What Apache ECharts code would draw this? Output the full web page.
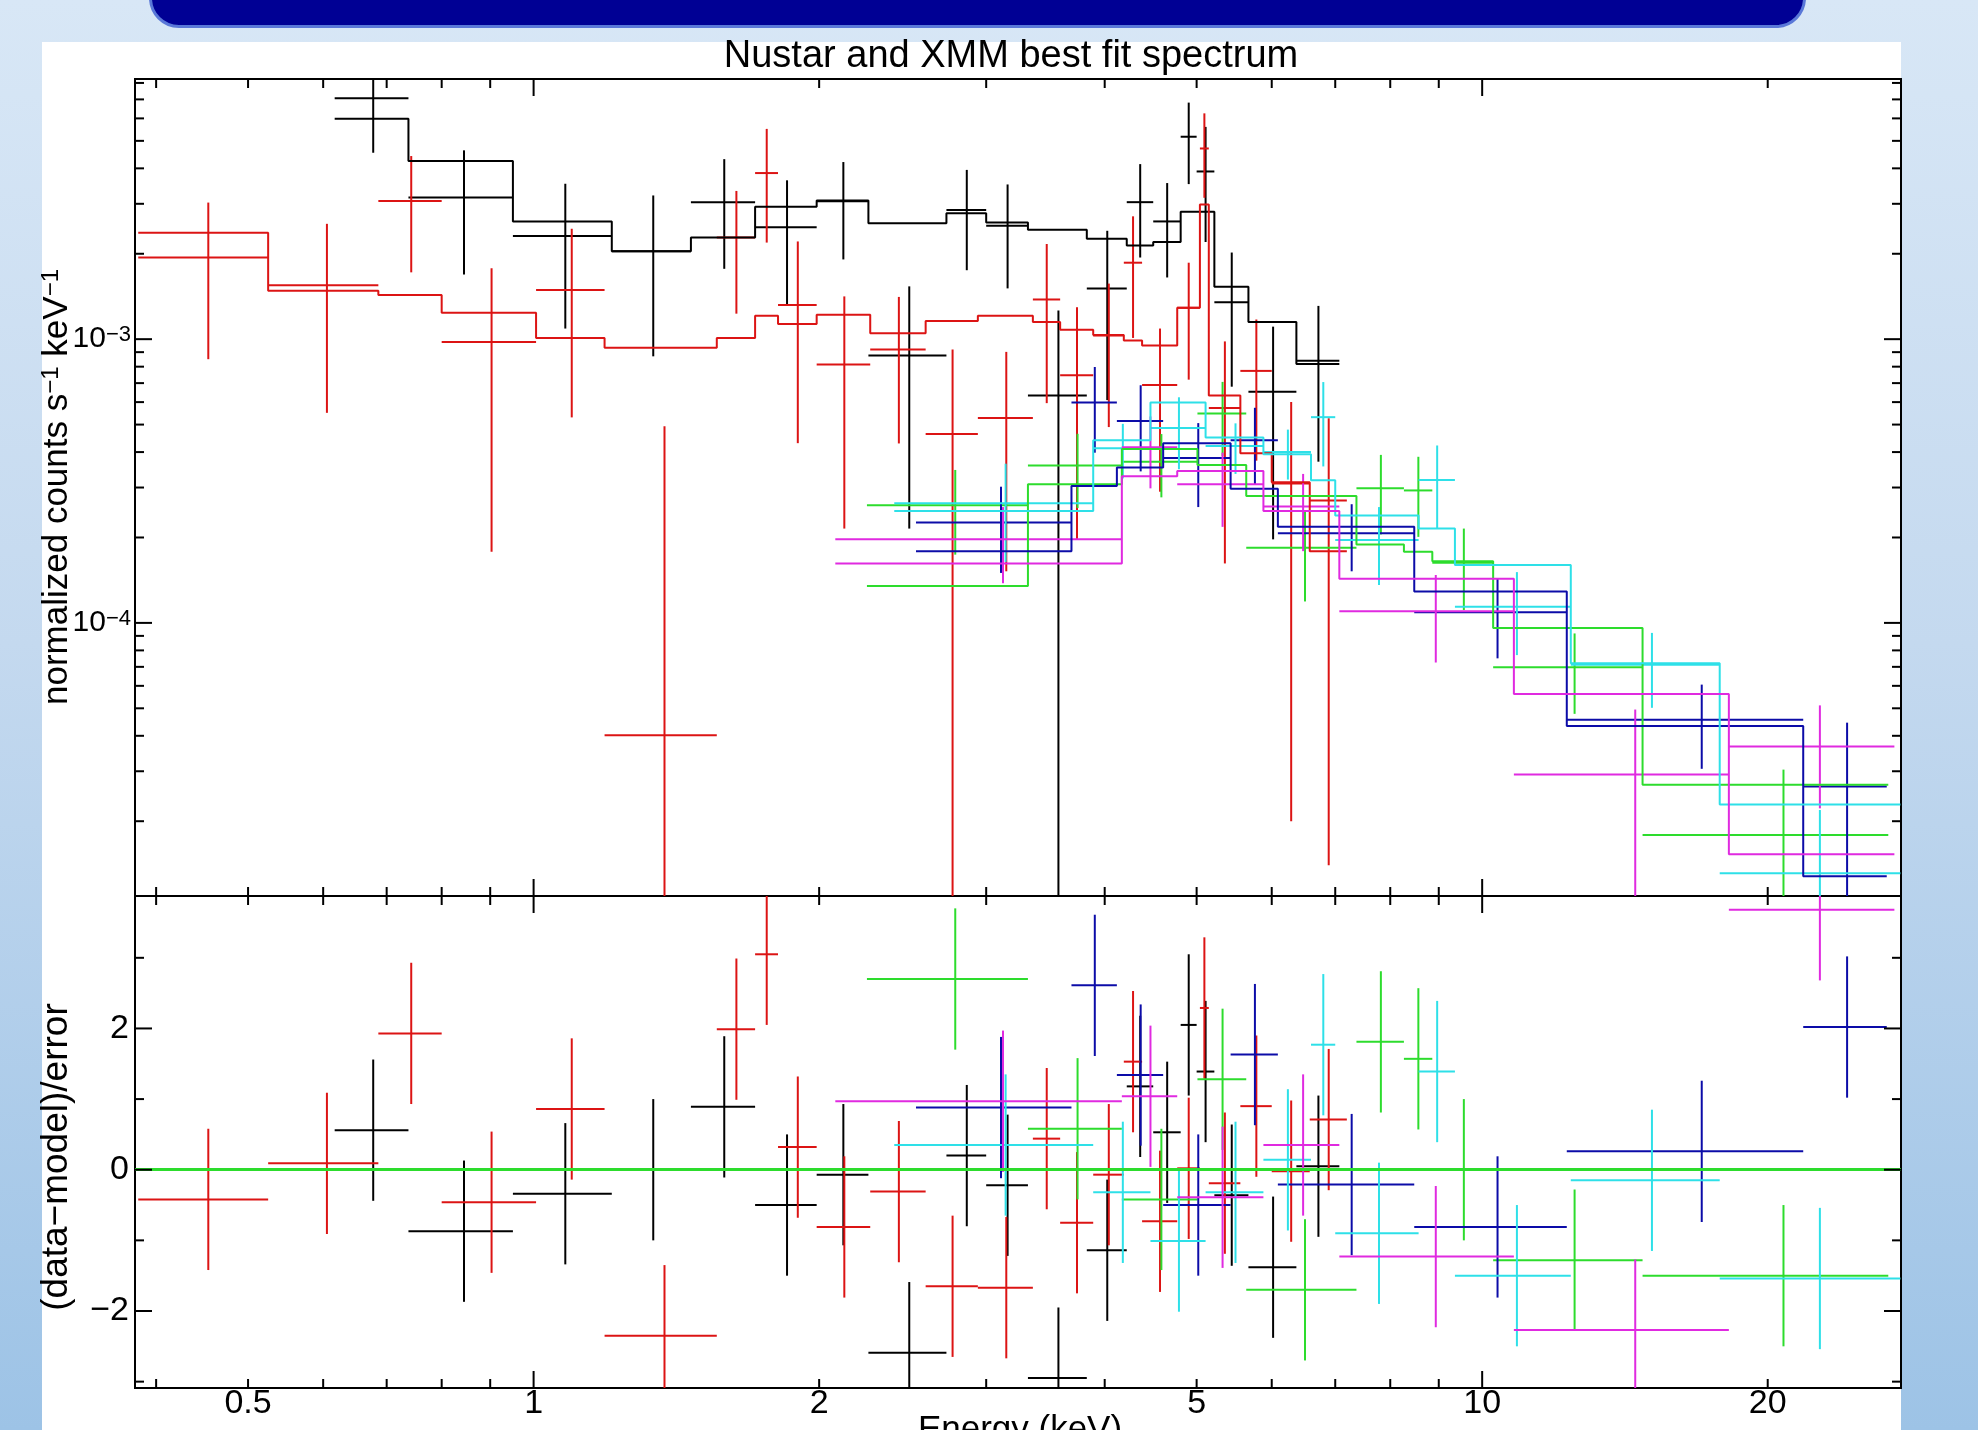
<!DOCTYPE html>
<html>
<head>
<meta charset="utf-8">
<script src="https://cdn.jsdelivr.net/npm/echarts@6.0.0/dist/echarts.min.js"></script>
<style>
html, body { margin: 0; padding: 0; }
body {
  width: 1978px; height: 1430px; overflow: hidden; position: relative;
  background: linear-gradient(to bottom, #d8e7f6 0%, #c4d9ef 45%, #9dc3e6 100%);
}
#bar {
  position: absolute; left: 149px; top: -30px; width: 1651px; height: 52px;
  background: #000094; border: 3px solid #5a78d8; border-radius: 0 0 30px 30px;
}
#panel { position: absolute; left: 42px; top: 42px; width: 1859px; height: 1400px; background: #fff; }
#chart { position: absolute; left: 0; top: 0; width: 1978px; height: 1430px; }
</style>
</head>
<body>
<div id="bar"></div>
<div id="panel"></div>
<div id="chart"></div>
<script>
// axis ranges
const xMin = 0.38, xMax = 27.64;        // energy, keV (log)
const yMin = 1.09e-5, yMax = 8.26e-3;   // normalized counts (log)
const rMin = -3.09, rMax = 3.875;       // residuals

// ticks and labels
const xMajorTicks = [1, 10];
const xMinorTicks = [0.4, 0.5, 0.6, 0.7, 0.8, 0.9, 2, 3, 4, 5, 6, 7, 8, 9, 20];
const xLabelVals = [0.5, 1, 2, 5, 10, 20];
const xLabels = ['0.5', '1', '2', '5', '10', '20'];
const yMajorTicks = [1e-4, 1e-3];
const yMinorTicks = [2e-5, 3e-5, 4e-5, 5e-5, 6e-5, 7e-5, 8e-5, 9e-5,
  2e-4, 3e-4, 4e-4, 5e-4, 6e-4, 7e-4, 8e-4, 9e-4,
  2e-3, 3e-3, 4e-3, 5e-3, 6e-3, 7e-3, 8e-3];
const yLabelVals = [1e-4, 1e-3];
const yLabels = ['10{s|−4}', '10{s|−3}'];
const rMajorTicks = [-2, 0, 2];
const rMinorTicks = [-3, -1, 1, 3];
const rLabelVals = [-2, 0, 2];
const rLabels = ['−2', '0', '2'];

// black: bin edges (keV), rate, error, model, residual
const blackEdges = [0.617, 0.738, 0.951, 1.209, 1.465, 1.712, 1.988, 2.254, 2.724, 3.0, 3.32, 3.83, 4.22, 4.5, 4.81, 5.0, 5.22, 5.67, 6.37, 7.07];
const blackRate = [7.06e-3, 3.16e-3, 2.31e-3, 2.04e-3, 3.04e-3, 2.48e-3, 3.06e-3, 8.75e-4, 2.85e-3, 2.51e-3, 6.33e-4, 1.51e-3, 3.04e-3, 2.6e-3, 5.17e-3, 3.9e-3, 1.35e-3, 6.52e-4, 8.4e-4];
const blackErr = [2.52e-3, 1.47e-3, 1.22e-3, 1.17e-3, 1.27e-3, 1.15e-3, 1.15e-3, 6.6e-4, 1.1e-3, 1.0e-3, 6.3e-4, 9e-4, 1.1e-3, 9.5e-4, 1.65e-3, 1.7e-3, 6.7e-4, 4.55e-4, 4.7e-4];
const blackModel = [5.98e-3, 4.25e-3, 2.6e-3, 2.04e-3, 2.28e-3, 2.93e-3, 3.08e-3, 2.56e-3, 2.78e-3, 2.58e-3, 2.43e-3, 2.26e-3, 2.14e-3, 2.2e-3, 2.81e-3, 2.81e-3, 1.53e-3, 1.15e-3, 8.17e-4];
const blackResid = [0.56, -0.87, -0.34, 0.0, 0.89, -0.5, -0.07, -2.59, 0.2, -0.22, -2.95, -1.14, 1.18, 0.53, 2.05, 1.39, -0.36, -1.38, 0.05];

// red
const redEdges = [0.383, 0.525, 0.686, 0.8, 1.006, 1.188, 1.56, 1.712, 1.81, 1.988, 2.264, 2.59, 2.94, 3.36, 3.59, 3.89, 4.19, 4.38, 4.77, 5.04, 5.15, 5.56, 6.0, 6.58, 7.2];
const redRate = [1.94e-3, 1.55e-3, 3.07e-3, 9.78e-4, 1.49e-3, 4.02e-5, 2.28e-3, 3.85e-3, 1.32e-3, 8.15e-4, 9.19e-4, 4.63e-4, 5.27e-4, 1.38e-3, 7.46e-4, 1.03e-3, 1.86e-3, 6.9e-4, 1.29e-3, 4.7e-3, 5.72e-4, 7.73e-4, 3.1e-4, 2.7e-4];
const redErr = [1.09e-3, 1.0e-3, 1.35e-3, 8.0e-4, 9.6e-4, 4.53e-4, 1.05e-3, 1.66e-3, 8.9e-4, 6.0e-4, 4.9e-4, 4.56e-4, 3.75e-4, 7.85e-4, 5.5e-4, 5.4e-4, 8.5e-4, 4.0e-4, 5.7e-4, 1.55e-3, 4.1e-4, 4.0e-4, 2.9e-4, 2.56e-4];
const redModel = [2.37e-3, 1.48e-3, 1.43e-3, 1.24e-3, 1.01e-3, 9.33e-4, 1.01e-3, 1.21e-3, 1.13e-3, 1.22e-3, 1.05e-3, 1.16e-3, 1.21e-3, 1.15e-3, 1.08e-3, 1.035e-3, 9.9e-4, 9.5e-4, 1.29e-3, 2.98e-3, 6.33e-4, 3.96e-4, 3.13e-4, 1.79e-4];
const redResid = [-0.42, 0.09, 1.93, -0.46, 0.86, -2.35, 1.99, 3.05, 0.32, -0.81, -0.31, -1.65, -1.67, 0.44, -0.75, -0.07, 1.53, -0.73, 0.02, 2.29, -0.19, 0.9, -0.02, 0.71];

// green
const greenEdges = [2.246, 3.32, 4.17, 5.01, 5.64, 7.37, 8.27, 8.86, 10.27, 14.76, 26.8];
const greenRate = [2.6e-4, 3.59e-4, 3.7e-4, 5.47e-4, 1.84e-4, 2.98e-4, 2.93e-4, 1.63e-4, 6.98e-5, 1.79e-5];
const greenErr = [0.86e-4, 1.05e-4, 0.93e-4, 1.6e-4, 0.65e-4, 0.93e-4, 0.92e-4, 0.52e-4, 2.2e-5, 1.25e-5];
const greenModel = [1.35e-4, 3.08e-4, 4.1e-4, 3.6e-4, 2.8e-4, 1.89e-4, 1.78e-4, 1.65e-4, 9.6e-5, 2.69e-5];
const greenResid = [2.7, 0.58, -0.42, 1.28, -1.7, 1.81, 1.57, 0.0, -1.28, -1.5];

// blue
const blueEdges = [2.53, 3.69, 4.12, 4.61, 5.43, 6.09, 8.48, 12.28, 21.8, 26.7];
const blueRate = [2.26e-4, 5.98e-4, 5.15e-4, 3.81e-4, 4.4e-4, 2.07e-4, 1.09e-4, 4.56e-5, 2.65e-5];
const blueErr = [0.76e-4, 2.0e-4, 1.73e-4, 1.25e-4, 1.33e-4, 0.55e-4, 0.34e-4, 1.5e-5, 1.8e-5];
const blueModel = [1.79e-4, 3.04e-4, 3.53e-4, 4.3e-4, 2.97e-4, 2.18e-4, 1.29e-4, 4.33e-5, 1.28e-5];
const blueResid = [0.88, 2.61, 1.34, -0.5, 1.63, -0.21, -0.81, 0.26, 2.02];

// cyan
const cyanEdges = [2.4, 3.89, 4.47, 5.11, 5.88, 6.6, 7.0, 8.57, 9.36, 12.4, 17.8, 27.6];
const cyanRate = [2.64e-4, 4.13e-4, 4.86e-4, 4.2e-4, 4.0e-4, 5.31e-4, 1.96e-4, 3.19e-4, 1.14e-4, 7.12e-5, 1.31e-5];
const cyanErr = [1.0e-4, 0.9e-4, 1.38e-4, 0.85e-4, 0.8e-4, 1.75e-4, 0.6e-4, 1.03e-4, 0.37e-4, 2.1e-5, 0.88e-5];
const cyanModel = [2.48e-4, 4.4e-4, 5.98e-4, 4.5e-4, 3.93e-4, 3.18e-4, 2.39e-4, 2.15e-4, 1.6e-4, 7.2e-5, 2.29e-5];
const cyanResid = [0.35, -0.32, -1.01, -0.32, 0.14, 1.77, -0.9, 1.39, -1.5, -0.15, -1.54];

// magenta
const magentaEdges = [2.08, 4.17, 4.77, 5.88, 7.07, 10.8, 18.2, 27.2];
const magentaRate = [1.97e-4, 4.16e-4, 3.08e-4, 2.57e-4, 1.1e-4, 2.92e-5, 3.67e-5];
const magentaErr = [0.59e-4, 1.18e-4, 0.9e-4, 0.78e-4, 0.375e-4, 2.03e-5, 1.45e-5];
const magentaModel = [1.62e-4, 3.29e-4, 3.43e-4, 2.48e-4, 1.43e-4, 5.61e-5, 1.53e-5];
const magentaResid = [0.97, 1.04, -0.39, 0.35, -1.23, -2.27, 3.68];

const FONT = 'Liberation Sans';

const sets = [
  { color: '#000000', edges: blackEdges, rate: blackRate, err: blackErr, model: blackModel, resid: blackResid },
  { color: '#dc1414', edges: redEdges, rate: redRate, err: redErr, model: redModel, resid: redResid },
  { color: '#2ddc2d', edges: greenEdges, rate: greenRate, err: greenErr, model: greenModel, resid: greenResid },
  { color: '#0c0ca8', edges: blueEdges, rate: blueRate, err: blueErr, model: blueModel, resid: blueResid },
  { color: '#2ee0e8', edges: cyanEdges, rate: cyanRate, err: cyanErr, model: cyanModel, resid: cyanResid },
  { color: '#e02ae0', edges: magentaEdges, rate: magentaRate, err: magentaErr, model: magentaModel, resid: magentaResid }
];

function stepData(edges, model) {
  const out = [];
  model.forEach((m, i) => { out.push([edges[i], m]); out.push([edges[i + 1], m]); });
  return out;
}

function crossRender(color) {
  return function (params, api) {
    const c = api.value(0), v = api.value(1), e = api.value(4);
    const lo = Math.max(api.value(2), xMin), hi = Math.min(api.value(3), xMax);
    const vv = Math.min(Math.max(v, yMin), yMax);
    const top = Math.min(v + e, yMax);
    const bot = v - e > yMin ? v - e : yMin;
    const a = api.coord([lo, vv]), b = api.coord([hi, vv]);
    const t = api.coord([c, top]), d = api.coord([c, bot]);
    const st = { stroke: color, lineWidth: 2 };
    return { type: 'group', children: [
      { type: 'line', shape: { x1: a[0], y1: a[1], x2: b[0], y2: b[1] }, style: st },
      { type: 'line', shape: { x1: t[0], y1: t[1], x2: d[0], y2: d[1] }, style: st }
    ] };
  };
}

function residRender(color) {
  return function (params, api) {
    const c = api.value(0), r = api.value(1);
    const lo = Math.max(api.value(2), xMin), hi = Math.min(api.value(3), xMax);
    const rr = Math.min(Math.max(r, rMin), rMax);
    const a = api.coord([lo, rr]), b = api.coord([hi, rr]);
    const t = api.coord([c, Math.min(r + 1, rMax)]), d = api.coord([c, Math.max(r - 1, rMin)]);
    const st = { stroke: color, lineWidth: 2 };
    return { type: 'group', children: [
      { type: 'line', shape: { x1: a[0], y1: a[1], x2: b[0], y2: b[1] }, style: st },
      { type: 'line', shape: { x1: t[0], y1: t[1], x2: d[0], y2: d[1] }, style: st }
    ] };
  };
}

function tickRender(params, api) {
  const cs = params.coordSys;
  const kind = api.value(2), len = api.value(3);
  const st = { stroke: '#000', lineWidth: 2 };
  const p = api.coord([api.value(0), api.value(1)]);
  if (kind === 0) {
    const bottom = cs.y + cs.height;
    return { type: 'group', children: [
      { type: 'line', shape: { x1: p[0], y1: bottom, x2: p[0], y2: bottom - len }, style: st },
      { type: 'line', shape: { x1: p[0], y1: cs.y, x2: p[0], y2: cs.y + len }, style: st }
    ] };
  }
  const right = cs.x + cs.width;
  return { type: 'group', children: [
    { type: 'line', shape: { x1: cs.x, y1: p[1], x2: cs.x + len, y2: p[1] }, style: st },
    { type: 'line', shape: { x1: right, y1: p[1], x2: right - len, y2: p[1] }, style: st }
  ] };
}

function tickData(ys, xOther, yOther) {
  const d = [];
  xMajorTicks.forEach(v => d.push([v, yOther, 0, 17]));
  xMinorTicks.forEach(v => d.push([v, yOther, 0, 9]));
  ys.major.forEach(v => d.push([xOther, v, 1, 17]));
  ys.minor.forEach(v => d.push([xOther, v, 1, 9]));
  return d;
}

const series = [];

sets.forEach(s => {
  const centres = s.rate.map((v, i) => (s.edges[i] + s.edges[i + 1]) / 2);
  series.push({
    type: 'custom', xAxisIndex: 0, yAxisIndex: 0, silent: true, z: 3,
    renderItem: crossRender(s.color),
    data: s.rate.map((v, i) => [centres[i], v, s.edges[i], s.edges[i + 1], s.err[i]])
  });
  series.push({
    type: 'line', xAxisIndex: 0, yAxisIndex: 0, silent: true, z: 3,
    symbol: 'none', lineStyle: { color: s.color, width: 2 }, itemStyle: { color: s.color },
    data: stepData(s.edges, s.model)
  });
  series.push({
    type: 'custom', xAxisIndex: 1, yAxisIndex: 1, silent: true, z: 3,
    renderItem: residRender(s.color),
    data: s.resid.map((r, i) => [centres[i], r, s.edges[i], s.edges[i + 1]])
  });
});

// zero line of the residual panel
series.push({
  type: 'line', xAxisIndex: 1, yAxisIndex: 1, silent: true, data: [], z: 4,
  markLine: {
    silent: true, symbol: 'none', animation: false, label: { show: false },
    lineStyle: { color: '#2ddc2d', width: 3, type: 'solid' },
    data: [{ yAxis: 0 }]
  }
});

// ticks
series.push({
  type: 'custom', xAxisIndex: 0, yAxisIndex: 0, silent: true, z: 5,
  renderItem: tickRender,
  data: tickData({ major: yMajorTicks, minor: yMinorTicks }, xMin, yMin)
});
series.push({
  type: 'custom', xAxisIndex: 1, yAxisIndex: 1, silent: true, z: 5,
  renderItem: tickRender,
  data: tickData({ major: rMajorTicks, minor: rMinorTicks }, xMin, 0)
});

// tick labels
series.push({
  type: 'custom', xAxisIndex: 1, yAxisIndex: 1, silent: true, z: 5,
  renderItem: function (params, api) {
    const cs = params.coordSys;
    const p = api.coord([api.value(0), api.value(1)]);
    return { type: 'text', x: p[0], y: cs.y + cs.height + 16, style: {
      text: xLabels[params.dataIndex], fontSize: 34, fontFamily: FONT, fill: '#000',
      align: 'center', verticalAlign: 'middle' } };
  },
  data: xLabelVals.map(v => [v, 0])
});
series.push({
  type: 'custom', xAxisIndex: 1, yAxisIndex: 1, silent: true, z: 5,
  renderItem: function (params, api) {
    const cs = params.coordSys;
    const p = api.coord([api.value(0), api.value(1)]);
    return { type: 'text', x: cs.x - 6, y: p[1], style: {
      text: rLabels[params.dataIndex], fontSize: 34, fontFamily: FONT, fill: '#000',
      align: 'right', verticalAlign: 'middle' } };
  },
  data: rLabelVals.map(v => [xMin, v])
});
series.push({
  type: 'custom', xAxisIndex: 0, yAxisIndex: 0, silent: true, z: 5,
  renderItem: function (params, api) {
    const cs = params.coordSys;
    const p = api.coord([api.value(0), api.value(1)]);
    return { type: 'text', x: cs.x - 4, y: p[1], style: {
      text: yLabels[params.dataIndex], fontSize: 30, fontFamily: FONT, fill: '#000',
      align: 'right', verticalAlign: 'middle',
      rich: { s: { fontSize: 22, fontFamily: FONT, verticalAlign: 'top', fill: '#000' } } } };
  },
  data: yLabelVals.map(v => [xMin, v])
});

const hiddenAxis = {
  axisLine: { show: false }, axisTick: { show: false },
  axisLabel: { show: false }, splitLine: { show: false }
};

const option = {
  animation: false,
  grid: [
    { left: 135, right: 77, top: 79, height: 817, show: true, borderColor: '#000', borderWidth: 2, backgroundColor: 'transparent' },
    { left: 135, right: 77, top: 896, height: 492, show: true, borderColor: '#000', borderWidth: 2, backgroundColor: 'transparent' }
  ],
  xAxis: [
    Object.assign({ gridIndex: 0, type: 'log', logBase: 10, min: xMin, max: xMax }, hiddenAxis),
    Object.assign({ gridIndex: 1, type: 'log', logBase: 10, min: xMin, max: xMax }, hiddenAxis)
  ],
  yAxis: [
    Object.assign({ gridIndex: 0, type: 'log', logBase: 10, min: yMin, max: yMax }, hiddenAxis),
    Object.assign({ gridIndex: 1, type: 'value', min: rMin, max: rMax }, hiddenAxis)
  ],
  graphic: [
    { type: 'text', x: 1011, y: 57, style: { text: 'Nustar and XMM best fit spectrum',
      fontSize: 38, fontFamily: FONT, fill: '#000', align: 'center', verticalAlign: 'middle' } },
    { type: 'text', x: 1020, y: 1413, style: { text: 'Energy (keV)',
      fontSize: 35, fontFamily: FONT, fill: '#000', align: 'center', verticalAlign: 'top' } },
    { type: 'text', x: 57, y: 487, rotation: Math.PI / 2, style: {
      text: 'normalized counts s{s|−1} keV{s|−1}', fontSize: 35, fontFamily: FONT, fill: '#000',
      align: 'center', verticalAlign: 'middle',
      rich: { s: { fontSize: 24, fontFamily: FONT, verticalAlign: 'top', fill: '#000' } } } },
    { type: 'text', x: 57, y: 1157, rotation: Math.PI / 2, style: {
      text: '(data−model)/error', fontSize: 37, fontFamily: FONT, fill: '#000',
      align: 'center', verticalAlign: 'middle' } }
  ],
  series: series
};

const chart = echarts.init(document.getElementById('chart'));
chart.setOption(option);
</script>
</body>
</html>
